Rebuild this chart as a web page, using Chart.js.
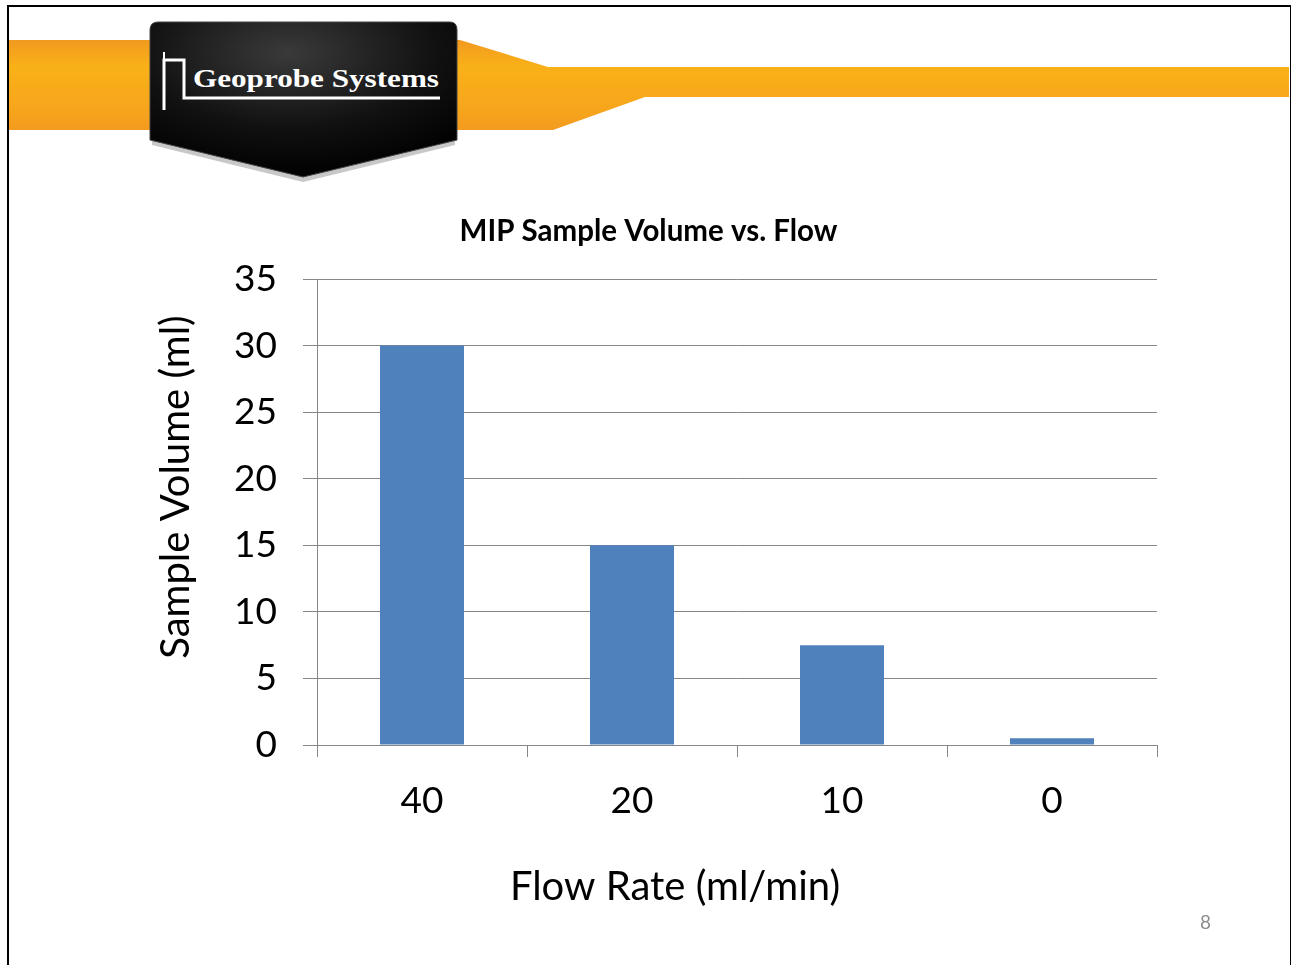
<!DOCTYPE html>
<html>
<head>
<meta charset="utf-8">
<script src="https://cdn.jsdelivr.net/npm/chart.js@4.4.1/dist/chart.umd.min.js"></script>
<style>
  html, body { margin:0; padding:0; background:#fff; width:1291px; height:965px; overflow:hidden; }
  #frame { position:absolute; left:7px; top:5px; width:1281px; height:1000px; border:2px solid #000; }
  #hdr { position:absolute; left:0; top:0; }
  #wrap { position:absolute; left:0; top:0; width:1291px; height:965px; }
  #pg { position:absolute; left:1200px; top:910px; font-family:Lato, sans-serif; font-size:19px; color:#8c8c8c; }
</style>
</head>
<body>
<svg id="hdr" width="1291" height="200" viewBox="0 0 1291 200">
  <defs>
    <linearGradient id="band" x1="0" y1="0" x2="0" y2="1">
      <stop offset="0" stop-color="#f29a20"/>
      <stop offset="0.3" stop-color="#f9b118"/>
      <stop offset="0.75" stop-color="#f7a61c"/>
      <stop offset="1" stop-color="#f39b1f"/>
    </linearGradient>
    <radialGradient id="shield" cx="0.45" cy="0.2" r="0.8">
      <stop offset="0" stop-color="#3a3a3a"/>
      <stop offset="0.6" stop-color="#111"/>
      <stop offset="1" stop-color="#000"/>
    </radialGradient>
  </defs>
  <path d="M9,40 L460,40 L548,67 L1289,67 L1289,97 L645,97 L553,130 L9,130 Z" fill="url(#band)"/>
  <path d="M153,28 L454,28 L455,145 L303,182 L152,145 Z" fill="#222" opacity="0.25"/>
  <path d="M158,22 L450,22 Q457,22 457,30 L457,140 L303,177 L150,140 L150,30 Q150,22 158,22 Z" fill="url(#shield)" stroke="#444" stroke-width="1"/>
  <path d="M164,110 L164,60 L184,60 L184,98 L440,98" fill="none" stroke="#fff" stroke-width="3"/>
  <path d="M164,60 L164,52" stroke="#fff" stroke-width="2"/>
  <text x="193" y="87" fill="#fff" font-family="'Liberation Serif', 'DejaVu Serif', serif" font-weight="bold" font-size="25" textLength="246" lengthAdjust="spacingAndGlyphs">Geoprobe Systems</text>
</svg>
<div id="frame"></div>
<div id="wrap"><canvas id="c" width="1291" height="965"></canvas></div>
<div id="pg">8</div>
<script>
const categories = ['40', '20', '10', '0'];
const sampleVolume = [30, 15, 7.5, 0.5];
const yTicks = [0, 5, 10, 15, 20, 25, 30, 35];
const xAxisTitle = 'Flow Rate (ml/min)';
const yAxisTitle = 'Sample Volume (ml)';
const chartTitle = 'MIP Sample Volume vs. Flow';

const FONT = 'Lato, "Open Sans", sans-serif';
const GRID = '#868686';

// Axis titles placed like the original (offset from the plot area centre, as Excel does)
const axisTitles = {
  id: 'axisTitles',
  afterDraw(chart) {
    const { ctx, chartArea: a } = chart;
    ctx.save();
    ctx.fillStyle = '#000';
    ctx.font = '40px ' + FONT;
    ctx.textAlign = 'center';
    ctx.textBaseline = 'middle';
    ctx.fillText(xAxisTitle, (a.left + a.right) / 2 - 62, a.bottom + 142);
    ctx.translate(a.left - 141, (a.top + a.bottom) / 2 - 25);
    ctx.rotate(-Math.PI / 2);
    ctx.fillText(yAxisTitle, 0, 0);
    ctx.restore();
  }
};

new Chart(document.getElementById('c'), {
  type: 'bar',
  data: {
    labels: categories,
    datasets: [{
      data: sampleVolume,
      backgroundColor: '#4f81bd',
      borderWidth: 0,
      barPercentage: 0.4,
      categoryPercentage: 1.0
    }]
  },
  plugins: [axisTitles],
  options: {
    responsive: false,
    animation: false,
    devicePixelRatio: 1,
    layout: { padding: { left: 140, right: 134, top: 0, bottom: 50 } },
    plugins: {
      legend: { display: false },
      tooltip: { enabled: false },
      title: {
        display: true,
        text: chartTitle,
        color: '#000',
        font: { family: FONT, size: 29.5, weight: 'bold', lineHeight: 1.2 },
        padding: { top: 214, bottom: 29.6 }
      }
    },
    scales: {
      y: {
        min: 0, max: 35,
        afterBuildTicks: (s) => { s.ticks = yTicks.map(v => ({ value: v })); },
        afterFit: (s) => { s.width = 177; },
        ticks: { color: '#000', font: { family: FONT, size: 37 }, padding: 26 },
        grid: { color: GRID, lineWidth: 1, tickLength: 14 },
        border: { color: GRID, width: 1 }
      },
      x: {
        afterFit: (s) => { s.height = 170; },
        ticks: { color: '#000', font: { family: FONT, size: 37 }, padding: 22 },
        grid: { drawOnChartArea: false, drawTicks: true, tickLength: 12, color: GRID, offset: true },
        border: { color: GRID, width: 1 }
      }
    }
  }
});
</script>
</body>
</html>
